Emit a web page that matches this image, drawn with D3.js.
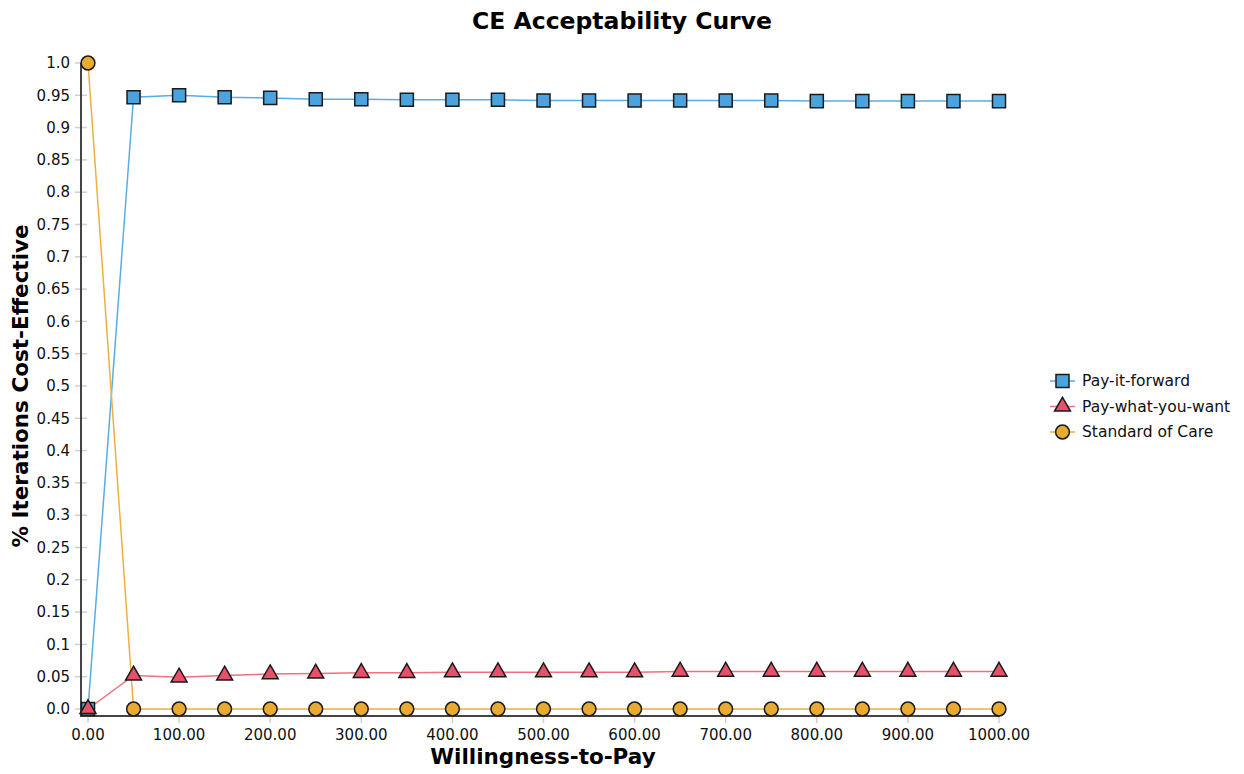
<!DOCTYPE html>
<html>
<head>
<meta charset="utf-8">
<script src="https://cdn.jsdelivr.net/npm/d3@7"></script>
<style>
  body { margin: 0; background: #fff; }
  svg text { font-family: "DejaVu Sans", Verdana, sans-serif; }
</style>
</head>
<body>
<svg id="chart" width="1244" height="774"></svg>
<script>
// willingness-to-pay values
var wtp = [0, 50, 100, 150, 200, 250, 300, 350, 400, 450, 500, 550, 600, 650, 700, 750, 800, 850, 900, 950, 1000];

var payItForward = [0, 0.947, 0.950, 0.947, 0.946, 0.944, 0.944, 0.943, 0.943, 0.943, 0.942,
    0.942, 0.942, 0.942, 0.942, 0.942, 0.941, 0.941, 0.941, 0.941, 0.941];
var payWhatYouWant = [0, 0.052, 0.049, 0.052, 0.054, 0.055, 0.056, 0.056, 0.057, 0.057, 0.057,
    0.057, 0.057, 0.058, 0.058, 0.058, 0.058, 0.058, 0.058, 0.058, 0.058];
var standardOfCare = [1, 0, 0, 0, 0, 0, 0, 0, 0, 0, 0, 0, 0, 0, 0, 0, 0, 0, 0, 0, 0];

var seriesNames = ["Pay-it-forward", "Pay-what-you-want", "Standard of Care"];
var xTicks = [0, 100, 200, 300, 400, 500, 600, 700, 800, 900, 1000];
var yTicks = d3.range(0, 21).map(d => d * 0.05);

function generateChart() {
    var svg = d3.select("#chart");

    var x = d3.scaleLinear().domain([0, 1000]).range([88, 999]);
    var y = d3.scaleLinear().domain([0, 1]).range([709, 63]);

    var series = [
        {name: seriesNames[0], values: payItForward, line: "#5aade4", fill: "#4aa3dd", shape: d3.symbolSquare, size: 170},
        {name: seriesNames[1], values: payWhatYouWant, line: "#f0707f", fill: "#e8506a", shape: d3.symbolTriangle, size: 110},
        {name: seriesNames[2], values: standardOfCare, line: "#eeb040", fill: "#e8aa30", shape: d3.symbolCircle, size: 150}
    ];

    // title
    svg.append("text")
        .attr("x", 622).attr("y", 29)
        .attr("text-anchor", "middle")
        .attr("font-size", 23.5).attr("font-weight", "bold")
        .text("CE Acceptability Curve");

    // y axis
    var yAxis = svg.append("g").attr("transform", "translate(81,0)");
    yAxis.selectAll(".tick")
        .data(yTicks)
        .enter()
        .append("line")
        .attr("x1", -6).attr("x2", 6)
        .attr("y1", d => y(d)).attr("y2", d => y(d))
        .attr("stroke", "#d0d0d0").attr("stroke-width", 1.5);
    yAxis.selectAll(".lab")
        .data(yTicks)
        .enter()
        .append("text")
        .attr("x", -11).attr("y", d => y(d))
        .attr("dy", "0.35em")
        .attr("text-anchor", "end")
        .attr("font-size", 15).attr("fill", "#111")
        .text(d => Math.round(d * 100) % 10 === 0 ? d.toFixed(1) : d.toFixed(2));
    yAxis.append("line")
        .attr("x1", 0).attr("x2", 0).attr("y1", 63).attr("y2", 717)
        .attr("stroke", "#444").attr("stroke-width", 2);

    // x axis
    var xAxis = svg.append("g").attr("transform", "translate(0,716)");
    xAxis.selectAll(".tick")
        .data(xTicks)
        .enter()
        .append("line")
        .attr("x1", d => x(d)).attr("x2", d => x(d))
        .attr("y1", -3).attr("y2", 7)
        .attr("stroke", "#d0d0d0").attr("stroke-width", 1.5);
    xAxis.selectAll(".lab")
        .data(xTicks)
        .enter()
        .append("text")
        .attr("x", d => x(d)).attr("y", 24)
        .attr("text-anchor", "middle")
        .attr("font-size", 15).attr("fill", "#111")
        .text(d => d3.format(".2f")(d));
    xAxis.append("line")
        .attr("x1", 80).attr("x2", 1000).attr("y1", 0).attr("y2", 0)
        .attr("stroke", "#444").attr("stroke-width", 2);

    // axis titles
    svg.append("text")
        .attr("x", 543).attr("y", 764)
        .attr("text-anchor", "middle")
        .attr("font-size", 21.5).attr("font-weight", "bold")
        .text("Willingness-to-Pay");
    svg.append("text")
        .attr("transform", "translate(28,386) rotate(-90)")
        .attr("text-anchor", "middle")
        .attr("font-size", 21.5).attr("font-weight", "bold")
        .text("% Iterations Cost-Effective");

    var line = d3.line().x(d => x(d[0])).y(d => y(d[1]));

    // lines first, then markers on top
    series.forEach(s => {
        svg.append("path")
            .attr("d", line(wtp.map((w, i) => [w, s.values[i]])))
            .attr("fill", "none")
            .attr("stroke", s.line)
            .attr("stroke-width", 1.5);
    });
    series.forEach(s => {
        svg.append("g")
            .selectAll("path")
            .data(wtp.map((w, i) => [w, s.values[i]]))
            .enter()
            .append("path")
            .attr("transform", d => "translate(" + x(d[0]) + "," + y(d[1]) + ")")
            .attr("d", d3.symbol().type(s.shape).size(s.size))
            .attr("fill", s.fill)
            .attr("stroke", "#1a1a1a")
            .attr("stroke-width", 1.5);
    });

    // legend
    var legend = svg.append("g").attr("transform", "translate(1050,381)");
    series.forEach((s, i) => {
        var g = legend.append("g").attr("transform", "translate(0," + (i * 25.5) + ")");
        g.append("line")
            .attr("x1", 0).attr("x2", 25)
            .attr("stroke", s.line).attr("stroke-width", 1.5);
        g.append("path")
            .attr("transform", "translate(12.5,0)")
            .attr("d", d3.symbol().type(s.shape).size(s.size))
            .attr("fill", s.fill)
            .attr("stroke", "#1a1a1a")
            .attr("stroke-width", 1.5);
        g.append("text")
            .attr("x", 32).attr("y", 0).attr("dy", "0.35em")
            .attr("font-size", 15.5).attr("fill", "#111")
            .text(s.name);
    });
}

generateChart();
</script>
</body>
</html>
